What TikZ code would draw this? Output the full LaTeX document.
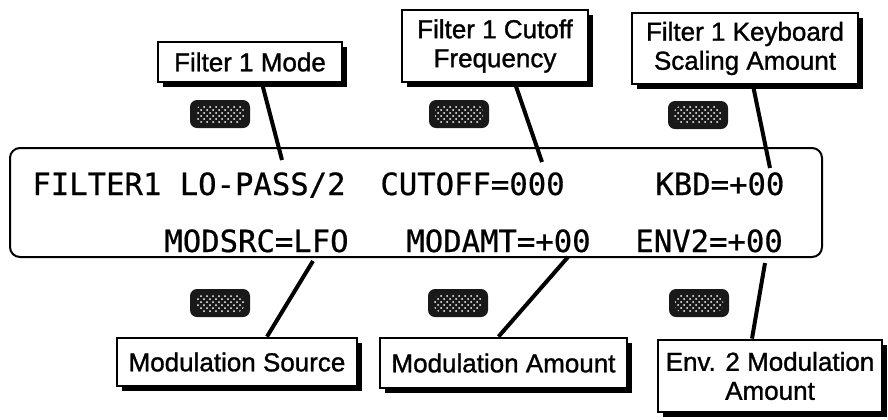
\documentclass[tikz,border=0pt]{standalone}
\usepackage{fontspec}
\usetikzlibrary{calc, shadows, patterns}
\newfontfamily\lblfont[FakeBold=1.2]{Liberation Sans}
\newfontfamily\lcdfont[FakeBold=0.6]{DejaVu Sans Mono}

\begin{document}
\begin{tikzpicture}[
    x=0.5pt, y=-0.5pt,
    lbl/.style={draw, line width=1.4pt, fill=white, align=center,
                inner sep=0pt,
                font=\lblfont\fontsize{13}{14.5}\selectfont,
                drop shadow={shadow xshift=2.5pt, shadow yshift=-2.5pt,
                             fill=black, opacity=1}},
    btn/.style={fill=black!90, rounded corners=3.5pt, inner sep=0pt,
                minimum width=30pt, minimum height=14pt,
                path picture={
                  \fill[pattern=crosshatch dots, pattern color=white]
                    ([shift={(3pt,2.5pt)}]path picture bounding box.south west)
                    rectangle
                    ([shift={(-3pt,-2.5pt)}]path picture bounding box.north east);
                }},
    lcd/.style={font=\lcdfont\fontsize{15.3}{16}\selectfont,
                anchor=base west, inner sep=0pt},
    lead/.style={line width=2pt}
  ]
  \useasboundingbox (0,0) rectangle (888,419);

  % the display
  \node[draw, line width=1pt, rounded corners=5pt, inner sep=0pt,
        minimum width=406pt, minimum height=54.5pt] (display) at (416,202.5) {};

  \node[lcd] (fmode) at (32,195) {FILTER1 LO-PASS/2};
  \node[lcd] (fcut)  at (380,195) {CUTOFF=000};
  \node[lcd] (fkbd)  at (655,195) {KBD=+00};
  \node[lcd] (msrc)  at (164,252) {MODSRC=LFO};
  \node[lcd] (mamt)  at (406,252) {MODAMT=+00};
  \node[lcd] (menv)  at (635,252) {ENV2=+00};

  % soft buttons
  \node[btn] (btnA) at (220,114) {};
  \node[btn] (btnB) at (459,114) {};
  \node[btn] (btnC) at (698,115) {};
  \node[btn] (btnD) at (220,303) {};
  \node[btn] (btnE) at (458,303) {};
  \node[btn] (btnF) at (699,303) {};

  % callouts, top row
  \node[lbl, minimum width=92pt, minimum height=20pt] (mode) at (250,62)
    {Filter 1 Mode};
  \node[lbl, minimum width=93pt, minimum height=36pt] (cutoff) at (495,46)
    {Filter 1 Cutoff\\Frequency};
  \node[lbl, minimum width=113pt, minimum height=35.5pt] (kbd) at (745,48.5)
    {Filter 1 Keyboard\\Scaling Amount};

  % callouts, bottom row
  \node[lbl, minimum width=120pt, minimum height=24pt] (modsrc) at (237,362)
    {Modulation Source};
  \node[lbl, minimum width=123.5pt, minimum height=25pt] (modamt) at (503.5,363)
    {Modulation Amount};
  \node[lbl, minimum width=112pt, minimum height=36pt] (env) at (770,376)
    {Env. 2 Modulation\\Amount};

  \coordinate (modeTip) at (282,160);
  \coordinate (cutTip)  at (542,162);
  \coordinate (kbdTip)  at (770,168);
  \coordinate (srcTip)  at (313,261);
  \coordinate (amtTip)  at (568,257);
  \coordinate (envTip)  at (765,263);

  \draw[lead] ($(mode.south)+(12,0)$)   -- (modeTip);
  \draw[lead] ($(cutoff.south)+(20,0)$) -- (cutTip);
  \draw[lead] ($(kbd.south)+(8,0)$)     -- (kbdTip);
  \draw[lead] ($(modsrc.north)+(30,0)$) -- (srcTip);
  \draw[lead] ($(modamt.north)+(-5,0)$) -- (amtTip);
  \draw[lead] ($(env.north)+(-18,0)$)   -- (envTip);
\end{tikzpicture}
\end{document}
